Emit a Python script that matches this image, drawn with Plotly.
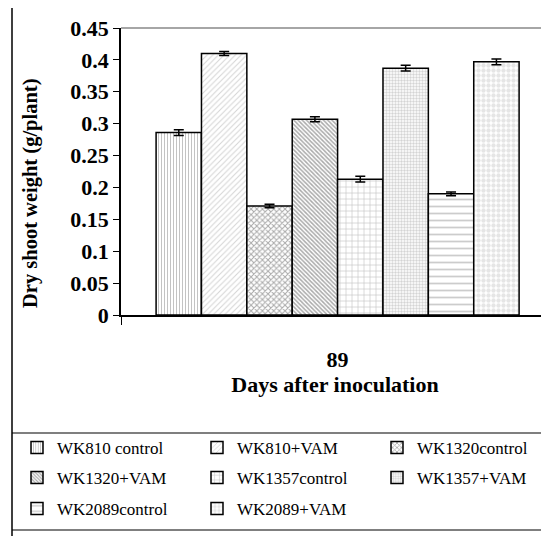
import plotly.graph_objects as go

day = ["89"]
series = ["WK810 control", "WK810+VAM", "WK1320control", "WK1320+VAM",
          "WK1357control", "WK1357+VAM", "WK2089control", "WK2089+VAM"]
values = [0.286, 0.410, 0.171, 0.307, 0.213, 0.387, 0.190, 0.397]
errors = [0.0044, 0.003, 0.0027, 0.004, 0.0045, 0.0045, 0.003, 0.0045]
ytick_vals = [0, 0.05, 0.1, 0.15, 0.2, 0.25, 0.3, 0.35, 0.4, 0.45]
ytick_text = ["0", "0.05", "0.1", "0.15", "0.2", "0.25", "0.3", "0.35", "0.4", "0.45"]
y_title = "Dry shoot weight (g/plant)"
x_title = "Days after inoculation"

patterns = [
    dict(shape="|", size=3, solidity=0.35, fgcolor="#888888"),
    dict(shape="/", size=4, solidity=0.25, fgcolor="#aaaaaa"),
    dict(shape="x", size=4, solidity=0.45, fgcolor="#555555"),
    dict(shape="\\", size=3, solidity=0.5, fgcolor="#555555"),
    dict(shape="+", size=6, solidity=0.2, fgcolor="#888888"),
    dict(shape=".", size=3, solidity=0.5, fgcolor="#aaaaaa"),
    dict(shape="-", size=7, solidity=0.25, fgcolor="#999999"),
    dict(shape=".", size=5, solidity=0.6, fgcolor="#cccccc"),
]

FONT = "Liberation Serif"
OFF = 8  # page body margin
W, H = 549 - OFF, 536 - OFF
L, R, T, B = 121 - OFF, 0, 28 - OFF, 536 - 315
pw, ph = W - L - R, H - T - B


def px(x):
    return (x - OFF - L) / pw


def py(y):
    return (H - B - (y - OFF)) / ph


# legend slot positions (reference pixels): column text starts, row centres
col_x = [17, 197, 377]
row_y = [448, 478, 509]

fig = go.Figure()
legend_layouts = {}
for i, (name, v, e, p) in enumerate(zip(series, values, errors, patterns)):
    key = "legend" if i == 0 else f"legend{i + 1}"
    fig.add_trace(go.Bar(
        x=day, y=[v], name=name, legend=key,
        marker=dict(color="white", line=dict(color="black", width=1.5),
                    pattern=dict(bgcolor="white", **p)),
        error_y=dict(type="data", array=[e], color="black", thickness=1.5, width=5),
    ))
    r, c = divmod(i, 3)
    legend_layouts[key] = dict(
        orientation="h", x=px(col_x[c]), y=py(row_y[r]), xanchor="left", yanchor="middle",
        font=dict(family=FONT, size=17, color="black"), bgcolor="rgba(0,0,0,0)",
    )

shapes = [
    dict(type="rect", xref="paper", yref="paper", x0=px(12), x1=px(570), y0=py(6), y1=py(560),
         line=dict(color="black", width=1.5)),
    dict(type="line", xref="paper", yref="paper", x0=0, x1=1, y0=1, y1=1,
         line=dict(color="#888888", width=1.5)),
    dict(type="line", xref="paper", yref="paper", x0=px(12), x1=px(570), y0=py(433), y1=py(433),
         line=dict(color="black", width=1.2)),
    dict(type="line", xref="paper", yref="paper", x0=px(12), x1=px(570), y0=py(530), y1=py(530),
         line=dict(color="black", width=1.2)),
]

annotations = [
    dict(text=f"<b>{y_title}</b>", textangle=-90, xref="paper", yref="paper",
         x=px(30), y=py(194), xanchor="center", yanchor="middle", showarrow=False,
         font=dict(family=FONT, size=20.5, color="black")),
]

fig.update_layout(
    width=W, height=H,
    margin=dict(l=L, r=R, t=T, b=B, autoexpand=False),
    paper_bgcolor="white", plot_bgcolor="white",
    barmode="group", bargap=0.162, bargroupgap=0,
    font=dict(family=FONT, color="black"),
    showlegend=True,
    shapes=shapes,
    annotations=annotations,
    xaxis=dict(type="category", range=[-0.5, 0.488], showline=True, linecolor="black", linewidth=1.5,
               ticks="outside", tickson="boundaries", ticklen=8, tickcolor="black",
               ticklabelstandoff=24, automargin=False,
               tickfont=dict(family=FONT, size=22, color="black", weight="bold"),
               title=dict(text=f"<b>{x_title}</b>", standoff=0,
                          font=dict(family=FONT, size=22, color="black")),
               showgrid=False, zeroline=False),
    yaxis=dict(range=[0, 0.45], tickvals=ytick_vals, ticktext=ytick_text,
               showline=True, linecolor="black", linewidth=1.5,
               ticks="outside", ticklen=6, tickcolor="black", automargin=False,
               tickfont=dict(family=FONT, size=22, color="black", weight="bold"),
               showgrid=False, zeroline=False),
    **legend_layouts,
)

fig.write_html("out.html")
